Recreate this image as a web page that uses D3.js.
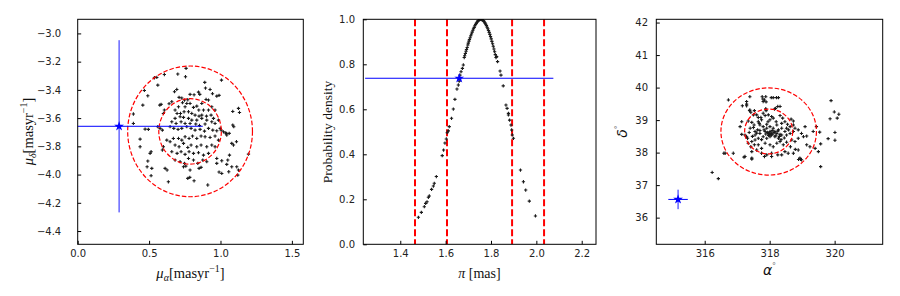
<!DOCTYPE html>
<html><head><meta charset="utf-8">
<script src="https://cdn.jsdelivr.net/npm/d3@7"></script>
<style>body{margin:0;background:#fff}svg{display:block}</style>
</head><body>
<svg id="c" width="900" height="296"></svg>
<script>
// ---------- Panel 1: proper motions ----------
const pmRA = [0.759,0.701,0.755,0.607,0.554,1.007,0.467,0.561,0.491,0.456,0.390,0.390,0.694,0.678,0.890,0.895,0.927,0.944,0.846,0.855,0.974,0.990,0.787,0.815,0.710,0.729,0.748,0.771,0.584,0.575,0.659,0.640,0.899,0.916,0.734,0.764,0.787,0.752,0.706,0.811,0.834,0.869,0.848,0.881,0.916,0.939,0.962,1.126,1.133,1.086,0.607,0.600,0.682,0.696,0.720,0.745,0.776,0.799,0.822,0.850,0.869,0.902,0.682,0.717,0.741,0.776,0.799,0.834,0.869,0.904,0.939,0.962,0.986,0.934,0.951,0.659,0.689,0.724,0.752,0.787,0.827,0.853,0.892,0.561,0.577,0.593,0.647,0.673,0.703,0.729,0.764,0.794,0.822,0.857,0.888,0.916,0.946,0.974,1.005,1.021,1.037,1.061,1.086,1.093,0.472,0.495,0.437,0.437,0.514,0.507,0.491,0.486,0.519,0.514,0.612,0.626,0.600,0.593,0.624,0.647,0.670,0.706,0.729,0.752,0.780,0.804,0.834,0.864,0.892,0.927,0.962,0.986,1.044,1.079,1.112,1.091,0.682,0.710,0.741,0.771,0.794,0.834,0.864,0.904,0.939,0.962,0.659,0.696,0.724,0.752,0.780,0.811,0.846,0.881,0.916,0.682,0.717,0.748,0.776,0.811,0.841,0.876,0.904,0.974,0.974,1.009,1.051,1.044,1.079,0.990,1.009,1.058,1.126,1.121,0.741,0.757,0.864,0.850,0.771,0.785,0.815,0.787,0.635,0.911,1.196,1.063,1.114,0.537,0.998,1.040];
const pmDec = [-3.248,-3.288,-3.307,-3.291,-3.312,-3.331,-3.404,-3.366,-3.442,-3.508,-3.571,-3.638,-3.397,-3.413,-3.347,-3.387,-3.397,-3.427,-3.416,-3.432,-3.444,-3.439,-3.432,-3.435,-3.453,-3.458,-3.472,-3.470,-3.503,-3.508,-3.484,-3.498,-3.468,-3.472,-3.491,-3.496,-3.496,-3.520,-3.520,-3.524,-3.515,-3.496,-3.543,-3.543,-3.543,-3.520,-3.543,-3.531,-3.560,-3.553,-3.543,-3.567,-3.543,-3.567,-3.567,-3.555,-3.555,-3.567,-3.579,-3.586,-3.579,-3.586,-3.602,-3.590,-3.595,-3.602,-3.614,-3.614,-3.602,-3.614,-3.626,-3.638,-3.614,-3.579,-3.602,-3.626,-3.638,-3.626,-3.638,-3.638,-3.642,-3.652,-3.642,-3.661,-3.673,-3.685,-3.661,-3.673,-3.680,-3.673,-3.661,-3.673,-3.685,-3.680,-3.692,-3.673,-3.685,-3.690,-3.685,-3.697,-3.704,-3.708,-3.649,-3.661,-3.678,-3.680,-3.749,-3.803,-3.838,-3.850,-3.904,-3.945,-3.956,-4.008,-3.956,-3.968,-3.803,-3.826,-3.756,-3.767,-3.744,-3.744,-3.756,-3.732,-3.744,-3.727,-3.744,-3.727,-3.732,-3.737,-3.727,-3.756,-3.720,-3.779,-3.767,-3.791,-3.791,-3.803,-3.779,-3.808,-3.791,-3.803,-3.791,-3.803,-3.791,-3.803,-3.838,-3.850,-3.838,-3.857,-3.838,-3.850,-3.845,-3.862,-3.850,-3.897,-3.909,-3.921,-3.886,-3.897,-3.921,-3.897,-3.909,-3.886,-3.921,-3.902,-3.897,-3.928,-3.945,-3.982,-3.992,-3.980,-3.968,-4.004,-3.945,-3.940,-3.949,-3.956,-4.027,-4.020,-4.044,-3.968,-4.051,-4.074,-3.855,-3.862,-3.945,-3.314,-3.673,-3.710];
const pmStar = [0.29, -3.658];
const pmErr = [0.586, 0.61];
const pmCentre = [0.787, -3.694];
const pmRx = [0.437, 0.219];
const pmRy = [0.463, 0.232];
const p1XTicks = [0.0, 0.5, 1.0, 1.5];
const p1YTicks = [-3.0, -3.2, -3.4, -3.6, -3.8, -4.0, -4.2, -4.4];

// ---------- Panel 2: parallax ----------
const plx = [1.480,1.493,1.506,1.512,1.518,1.524,1.528,1.538,1.546,1.550,1.559,1.585,1.591,1.597,1.603,1.607,1.612,1.616,1.626,1.634,1.641,1.650,1.656,1.660,1.663,1.668,1.674,1.678,1.682,
 1.684,1.687,1.690,1.692,1.695,1.698,1.700,1.703,1.705,1.708,1.711,1.714,1.717,1.720,1.723,1.726,1.729,1.732,1.735,1.738,1.741,1.744,1.747,1.750,1.753,1.756,1.759,1.762,1.765,1.768,1.771,1.774,1.777,1.780,1.783,1.786,1.789,1.792,1.795,1.798,1.801,1.804,1.807,1.810,1.813,1.816,1.819,1.822,
 1.825,1.829,1.840,1.844,1.854,1.866,1.871,1.877,1.877,1.882,1.888,1.891,1.894,1.899,1.930,1.943,1.953,1.969,1.996];
const dens = [0.120,0.142,0.167,0.182,0.189,0.209,0.215,0.244,0.259,0.271,0.301,0.394,0.419,0.450,0.468,0.496,0.504,0.523,0.560,0.601,0.644,0.690,0.708,0.725,0.752,0.767,0.782,0.797,0.830,
 0.838,0.848,0.858,0.866,0.875,0.886,0.894,0.903,0.910,0.918,0.927,0.935,0.943,0.951,0.958,0.964,0.971,0.977,0.982,0.987,0.991,0.994,0.997,0.999,1.000,1.000,0.999,0.998,0.995,0.992,0.988,0.983,0.978,0.972,0.965,0.958,0.950,0.942,0.933,0.923,0.913,0.902,0.891,0.880,0.868,0.856,0.843,0.830,
 0.834,0.812,0.770,0.752,0.704,0.619,0.604,0.582,0.575,0.552,0.530,0.508,0.486,0.471,0.330,0.278,0.241,0.192,0.126];
const plxStar = [1.66, 0.738];
const plxErr = 0.415;
const plxLines = [1.465, 1.606, 1.893, 2.034];
const p2XTicks = [1.4, 1.6, 1.8, 2.0, 2.2];
const p2YTicks = [0.0, 0.2, 0.4, 0.6, 0.8, 1.0];

// ---------- Panel 3: sky positions ----------
const ra = [316.23,316.42,316.73,316.59,316.88,317.21,317.45,319.89,319.86,319.99,320.08,320.13,320.01,320.01,319.80,319.57,319.57,319.54,319.14,318.89,318.95,318.79,318.64,317.39,317.29,317.29,317.29,317.16,317.77,317.79,317.80,318.05,318.21,318.32,317.88,317.53,317.39,
 317.88,317.84,317.89,318.11,318.27,318.25,318.15,318.18,317.89,317.38,317.42,317.50,317.60,317.65,317.73,317.80,317.86,317.96,318.06,318.32,318.40,318.66,318.73,318.47,318.55,317.34,317.45,317.14,317.24,317.29,317.32,317.40,317.50,317.55,317.63,317.70,317.80,317.91,318.01,318.11,318.22,318.27,318.37,318.47,317.86,317.96,318.06,317.80,317.91,318.01,318.16,318.27,318.37,318.52,318.63,318.73,317.65,317.55,317.45,317.34,317.42,317.53,317.65,317.75,317.86,318.01,318.11,318.22,318.32,318.42,318.52,318.68,318.78,318.88,318.78,318.88,318.98,318.63,318.73,319.09,319.04,319.34,319.44,319.14,319.24,319.40,318.88,318.73,318.57,318.47,318.37,318.25,318.06,317.91,317.75,317.60,317.45,317.45,317.24,316.63,318.93,318.98,319.50,317.84,318.06,317.14,317.09,317.65,317.75,318.01,318.11,318.37,318.52,317.91,318.01,318.16,318.22,318.32,317.55,317.70,
 317.93,317.98,318.05,318.10,318.14,318.19,317.88,317.83,318.08,318.25,318.30,317.70,317.60,317.75,318.35,317.47,317.37,318.45,318.58,317.68,317.95,318.20,317.52,318.00,318.04,317.97];
const dec = [37.39,37.20,39.62,37.98,37.98,37.86,37.80,39.60,39.04,39.25,39.06,39.18,38.62,38.38,38.43,38.27,37.57,38.63,38.51,37.79,37.79,38.10,38.18,39.72,39.57,39.49,39.44,39.44,39.72,39.65,39.57,39.69,39.69,39.42,39.35,39.29,39.31,
 39.72,39.62,39.56,39.69,39.69,39.42,39.34,39.36,39.29,39.29,39.24,39.16,39.16,39.08,39.08,39.21,39.14,39.16,39.11,39.14,39.06,39.03,38.97,38.95,38.87,38.97,38.93,38.56,38.54,38.49,38.44,38.75,38.77,38.65,38.70,38.85,38.80,38.87,38.80,38.75,38.85,38.70,38.75,38.65,38.65,38.59,38.54,38.49,38.44,38.49,38.49,38.44,38.54,38.54,38.59,38.65,38.44,38.39,38.34,38.29,38.18,38.24,38.24,38.13,38.29,38.24,38.18,38.29,38.34,38.24,38.32,38.39,38.34,38.44,38.75,38.70,38.59,38.80,38.85,38.80,38.49,38.65,38.80,38.24,38.18,38.13,38.08,37.98,37.98,38.03,37.93,37.93,37.98,37.93,37.98,38.08,38.03,37.83,37.88,37.98,37.83,37.78,38.03,37.88,37.88,38.95,38.80,38.95,39.01,39.01,39.06,38.90,38.75,38.75,38.65,38.65,38.59,38.56,38.54,38.59,
 38.62,38.55,38.60,38.57,38.62,38.52,38.57,38.70,38.68,38.66,38.50,38.68,38.60,38.40,38.40,38.50,38.62,38.45,38.70,38.90,38.95,38.95,38.85,38.58,38.56,38.53];
const skyStar = [315.18, 36.56];
const skyErr = [0.3, 0.3];
const skyCentre = [317.97, 38.65];
const skyRx = [1.47, 0.74];
const skyRy = [1.34, 0.69];
const p3XTicks = [316, 318, 320];
const p3YTicks = [36, 37, 38, 39, 40, 41, 42];

// ---------- drawing ----------
const svg = d3.select("#c");
const TOP = 19.3, BOT = 244.3;
const BLUE = "#0000ff", RED = "#ff0000";
const labelFont = "'Liberation Serif','Times New Roman',serif";
const tickFont = "'DejaVu Sans',sans-serif";

function panel(id, x0, x1, xd, yd, xTicks, yTicks, xFmt, yFmt, yPad) {
  const x = d3.scaleLinear().domain(xd).range([x0, x1]);
  const y = d3.scaleLinear().domain(yd).range([BOT, TOP]);
  svg.append("clipPath").attr("id", "clip" + id).append("rect")
    .attr("x", x0).attr("y", TOP).attr("width", x1 - x0).attr("height", BOT - TOP);
  const g = svg.append("g");
  const plot = g.append("g").attr("clip-path", `url(#clip${id})`);
  const ax = g.append("g").attr("transform", `translate(0,${BOT})`)
    .call(d3.axisBottom(x).tickValues(xTicks).tickFormat(d3.format(xFmt)).tickSize(-3.5).tickPadding(5.5));
  const ay = g.append("g").attr("transform", `translate(${x0},0)`)
    .call(d3.axisLeft(y).tickValues(yTicks).tickFormat(d3.format(yFmt)).tickSize(-3.5).tickPadding(yPad));
  [ax, ay].forEach(a => {
    a.select(".domain").remove();
    a.selectAll("line").attr("stroke", "#000").attr("stroke-width", 1);
    a.selectAll("text").attr("font-family", tickFont).attr("font-size", 10).attr("fill", "#222");
  });
  g.append("rect").attr("x", x0).attr("y", TOP).attr("width", x1 - x0).attr("height", BOT - TOP)
    .attr("fill", "none").attr("stroke", "#000").attr("stroke-width", 1);
  return {x, y, plot, g};
}

const dot = d3.symbol().type(d3.symbolCross).size(6);
const star = d3.symbol().type(d3.symbolStar).size(30);

function dots(p, xs, ys) {
  p.plot.append("g").selectAll("path").data(xs.map((v, i) => [v, ys[i]])).join("path")
    .attr("d", dot).attr("fill", "#1a1a1a")
    .attr("transform", d => `translate(${p.x(d[0])},${p.y(d[1])})`);
}
function ellipses(p, c, rxs, rys) {
  p.plot.append("g").selectAll("ellipse").data(rxs.map((r, i) => [r, rys[i]])).join("ellipse")
    .attr("cx", p.x(c[0])).attr("cy", p.y(c[1]))
    .attr("rx", d => p.x(c[0] + d[0]) - p.x(c[0]))
    .attr("ry", d => p.y(c[1] - d[1]) - p.y(c[1]))
    .attr("fill", "none").attr("stroke", RED).attr("stroke-width", 1.2).attr("stroke-dasharray", "4.5,2");
}
function errStar(p, s, ex, ey) {
  const e = p.plot.append("g");
  if (ex != null) e.append("line").attr("x1", p.x(s[0] - ex)).attr("x2", p.x(s[0] + ex))
    .attr("y1", p.y(s[1])).attr("y2", p.y(s[1])).attr("stroke", BLUE).attr("stroke-width", 1);
  if (ey != null) e.append("line").attr("x1", p.x(s[0])).attr("x2", p.x(s[0]))
    .attr("y1", p.y(s[1] - ey)).attr("y2", p.y(s[1] + ey)).attr("stroke", BLUE).attr("stroke-width", 0.9);
  e.append("path").attr("d", star).attr("fill", BLUE)
    .attr("transform", `translate(${p.x(s[0])},${p.y(s[1])})`);
}

// Panel 1
const p1 = panel(1, 77.7, 303.3, [0, 1.58], [-4.494, -2.90], p1XTicks, p1YTicks, ".1f", ".1f", 16.5);
dots(p1, pmRA, pmDec);
ellipses(p1, pmCentre, pmRx, pmRy);
errStar(p1, pmStar, pmErr[0], pmErr[1]);

// Panel 2
const p2 = panel(2, 363.3, 596, [1.237, 2.263], [0, 1], p2XTicks, p2YTicks, ".1f", ".1f", 8.3);
p2.plot.append("g").selectAll("line").data(plxLines).join("line")
  .attr("x1", d => p2.x(d)).attr("x2", d => p2.x(d)).attr("y1", TOP).attr("y2", BOT)
  .attr("stroke", RED).attr("stroke-width", 2).attr("stroke-dasharray", "7,3");
dots(p2, plx, dens);
errStar(p2, plxStar, plxErr, null);

// Panel 3
const p3 = panel(3, 656.3, 882.7, [314.51, 321.48], [35.18, 42.10], p3XTicks, p3YTicks, "d", "d", 8.3);
dots(p3, ra, dec);
ellipses(p3, skyCentre, skyRx, skyRy);
errStar(p3, skyStar, skyErr[0], skyErr[1]);

// ---------- axis labels ----------
function muLabel(x, y, sub, rotate) {
  const t = svg.append("text").attr("font-family", labelFont).attr("font-size", 14.5).attr("fill", "#111")
    .attr("text-anchor", "middle");
  if (rotate) t.attr("transform", `translate(${x},${y}) rotate(-90)`);
  else t.attr("x", x).attr("y", y);
  t.append("tspan").attr("font-style", "italic").text("μ");
  t.append("tspan").attr("font-style", "italic").attr("font-size", 10).attr("dy", 3).text(sub);
  t.append("tspan").attr("dy", -3).text("[masyr");
  t.append("tspan").attr("font-size", 10).attr("dy", -6).text("−1");
  t.append("tspan").attr("dy", 6).text("]");
}
muLabel(190.5, 278, "α", false);
muLabel(33, 131.5, "δ", true);

const t2 = svg.append("text").attr("x", 479.5).attr("y", 278).attr("text-anchor", "middle")
  .attr("font-family", labelFont).attr("font-size", 14).attr("fill", "#111");
t2.append("tspan").attr("font-style", "italic").text("π");
t2.append("tspan").text(" [mas]");
svg.append("text").attr("transform", "translate(331.5,132) rotate(-90)").attr("text-anchor", "middle")
  .attr("font-family", labelFont).attr("font-size", 13.5).attr("fill", "#111").text("Probability density");

function degLabel(x, y, ch, rotate) {
  const t = svg.append("text").attr("text-anchor", "middle")
    .attr("font-family", tickFont).attr("font-size", 14).attr("fill", "#111");
  if (rotate) t.attr("transform", `translate(${x},${y}) rotate(-90)`);
  else t.attr("x", x).attr("y", y);
  t.append("tspan").attr("font-style", "italic").text(ch);
  t.append("tspan").attr("font-size", 8).attr("dy", -6).attr("fill", "#777").text("°");
}
degLabel(769.5, 275, "α", false);
degLabel(627, 131.5, "δ", true);
</script>
</body></html>
